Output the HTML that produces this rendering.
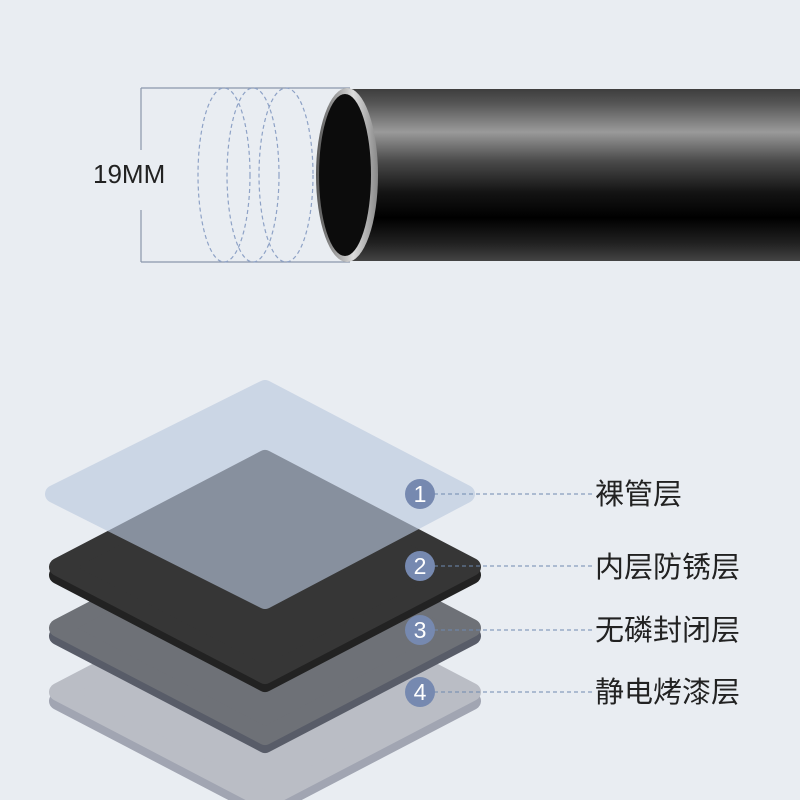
<!DOCTYPE html>
<html><head><meta charset="utf-8"><style>
html,body{margin:0;padding:0;background:#e9edf2;}
svg{display:block}
</style></head><body>
<svg width="800" height="800" viewBox="0 0 800 800" xmlns="http://www.w3.org/2000/svg">
<defs>
<linearGradient id="pipe" x1="0" y1="0" x2="0" y2="1">
<stop offset="0" stop-color="#3e3e3e"/>
<stop offset="0.08" stop-color="#545454"/>
<stop offset="0.25" stop-color="#9a9a9a"/>
<stop offset="0.42" stop-color="#4a4a4a"/>
<stop offset="0.6" stop-color="#141414"/>
<stop offset="0.75" stop-color="#000"/>
<stop offset="0.9" stop-color="#222"/>
<stop offset="1" stop-color="#444"/>
</linearGradient>
<linearGradient id="rim" x1="0" y1="0" x2="1" y2="0">
<stop offset="0" stop-color="#555"/>
<stop offset="0.6" stop-color="#ddd"/>
<stop offset="1" stop-color="#888"/>
</linearGradient>
</defs>
<rect width="800" height="800" fill="#e9edf2"/>
<g stroke="#8a97ab" stroke-width="1.2" fill="none">
<line x1="141" y1="88" x2="141" y2="150"/>
<line x1="141" y1="210" x2="141" y2="262"/>
<line x1="141" y1="88" x2="350" y2="88"/>
<line x1="141" y1="262" x2="350" y2="262"/>
</g>
<text x="93" y="183" font-family="Liberation Sans, sans-serif" font-size="26" fill="#222">19MM</text>
<g stroke="#8ea2c6" stroke-width="1.2" stroke-dasharray="4 3" fill="none">
<ellipse cx="224" cy="175" rx="26" ry="87"/>
<ellipse cx="253" cy="175" rx="26" ry="87"/>
<ellipse cx="286" cy="175" rx="27" ry="87"/>
</g>
<rect x="347" y="89" width="453" height="172" fill="url(#pipe)"/>
<ellipse cx="347" cy="175" rx="31" ry="87" fill="url(#rim)"/>
<ellipse cx="345" cy="175" rx="26" ry="81" fill="#0c0c0c"/>
<g stroke-linejoin="round" stroke-width="18">
<polygon points="58,696 265,588 472,696 265,804" fill="#a1a5b2" stroke="#a1a5b2" transform="translate(0,5)"/>
<polygon points="58,692 265,584 472,692 265,800" fill="#babdc5" stroke="#babdc5"/>
<polygon points="58,632 265,524 472,632 265,740" fill="#585c68" stroke="#585c68" transform="translate(0,4)"/>
<polygon points="58,628 265,520 472,628 265,736" fill="#6e7177" stroke="#6e7177"/>
<polygon points="58,571 265,463 472,571 265,679" fill="#222" stroke="#222" transform="translate(0,4)"/>
<polygon points="58,567 265,459 472,567 265,675" fill="#363636" stroke="#363636"/>
<polygon points="54,494 265,389 466,494 265,600" fill="rgb(186,200,222)" stroke="rgb(186,200,222)" opacity="0.62"/>
</g>
<g font-family="Liberation Sans, sans-serif" font-size="23" fill="#fff" text-anchor="middle">
<g stroke="#6f89b0" stroke-width="1" stroke-dasharray="4 3">
<line x1="434" y1="494" x2="592" y2="494"/>
<line x1="434" y1="566" x2="592" y2="566"/>
<line x1="434" y1="630" x2="592" y2="630"/>
<line x1="434" y1="692" x2="592" y2="692"/>
</g>
<circle cx="420" cy="494" r="15" fill="#7689b0"/><text x="420" y="502">1</text>
<circle cx="420" cy="566" r="15" fill="#7689b0"/><text x="420" y="574">2</text>
<circle cx="420" cy="630" r="15" fill="#7689b0"/><text x="420" y="638">3</text>
<circle cx="420" cy="692" r="15" fill="#7689b0"/><text x="420" y="700">4</text>
</g>
<g font-family="Liberation Sans, 'Noto Sans CJK SC', sans-serif" font-size="29" fill="#222">
<text x="595" y="504">裸管层</text>
<text x="595" y="577">内层防锈层</text>
<text x="595" y="640">无磷封闭层</text>
<text x="595" y="702">静电烤漆层</text>
</g>
</svg>
</body></html>
